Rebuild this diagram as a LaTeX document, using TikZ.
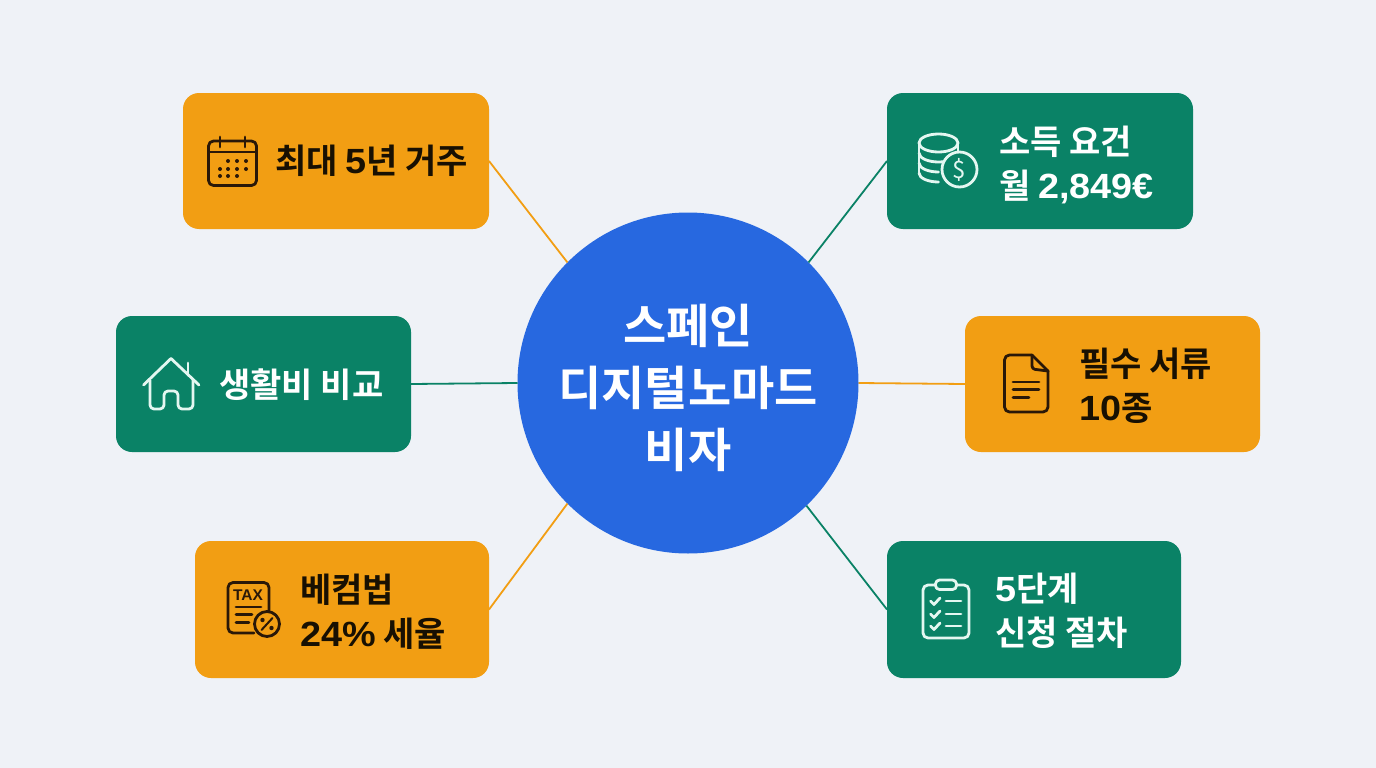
\documentclass[tikz,border=0pt]{standalone}
\usepackage{fontspec}
\setmainfont{Noto Sans CJK KR}[BoldFont={Noto Sans CJK KR Bold}]
\newfontfamily\latinbold{Liberation Sans Bold}
\newfontfamily\latinwide{Liberation Sans Bold}[FakeStretch=1.08]
\newcommand{\lat}[1]{{\fontsize{35}{44}\selectfont\latinwide #1}}
\definecolor{bgc}{HTML}{EFF2F7}
\definecolor{orangec}{HTML}{F29E13}
\definecolor{greenc}{HTML}{0A8266}
\definecolor{bluec}{HTML}{2768E0}
\definecolor{darkc}{HTML}{2A1808}
\definecolor{lightc}{HTML}{E4F7F1}
\tikzset{
  orangebox/.style={fill=orangec,rounded corners=16pt,inner sep=0pt,outer sep=0pt},
  greenbox/.style={fill=greenc,rounded corners=16pt,inner sep=0pt,outer sep=0pt},
  hub/.style={circle,fill=bluec,minimum size=341pt,inner sep=0pt,outer sep=0pt},
  hubtext/.style={inner sep=0pt,align=center,text=white,font=\fontsize{47}{62}\selectfont\bfseries},
  labeldark/.style={anchor=west,inner sep=0pt,align=left,text=black!90!orangec,font=\fontsize{34}{44}\selectfont\bfseries},
  labellight/.style={anchor=west,inner sep=0pt,align=left,text=white,font=\fontsize{34}{44}\selectfont\bfseries},
  linko/.style={draw=orangec,line width=1.8pt},
  linkg/.style={draw=greenc,line width=1.8pt},
  icond/.style={draw=darkc,line width=2.8pt,line cap=round,line join=round},
  iconl/.style={draw=lightc,line width=2.8pt,line cap=round,line join=round},
}
\begin{document}
\begin{tikzpicture}[x=1pt,y=-1pt]
\fill[bgc] (0,0) rectangle (1376,768);
\useasboundingbox (0,0) rectangle (1376,768);

% boxes
\node[orangebox,minimum width=306pt,minimum height=136pt] (boxa) at (336,161) {};
\node[greenbox,minimum width=306pt,minimum height=136pt] (boxb) at (1040,161) {};
\node[greenbox,minimum width=295pt,minimum height=136pt] (boxc) at (263.5,384) {};
\node[orangebox,minimum width=295pt,minimum height=136pt] (boxd) at (1112.5,384) {};
\node[orangebox,minimum width=294pt,minimum height=137pt] (boxe) at (342,609.5) {};
\node[greenbox,minimum width=294pt,minimum height=137pt] (boxf) at (1034,609.5) {};

% hub
\node[hub] (hubc) at (688,383) {};
\node[hubtext] (hubt) at (688,388) {스페인\\디지털노마드\\비자};

% connectors
\draw[linko] (boxa.east) -- (hubc.135);
\draw[linkg] (boxb.west) -- (hubc.45.5);
\draw[linkg] (boxc.east) -- (hubc.180);
\draw[linko] (boxd.west) -- (hubc.0);
\draw[linko] (boxe.east) -- (hubc.225);
\draw[linkg] (boxf.west) -- (hubc.-46);

% labels
\node[labeldark] (ta) at (275,161) {최대 \lat{5}년 거주};
\node[labellight] (tb) at (999,165) {소득 요건\\월 \lat{2,849€}};
\node[labellight] (tc) at (219,385) {생활비 비교};
\node[labeldark] (td) at (1079,386) {필수 서류\\\lat{10}종};
\node[labeldark] (te) at (300,612) {베컴법\\\lat{24\%} 세율};
\node[labellight] (tf) at (995,611) {\lat{5}단계\\신청 절차};

% calendar icon
\draw[icond,rounded corners=5pt] (208.5,153) -- (208.5,141) -- (256.5,141) -- (256.5,185.5) -- (208.5,185.5) -- cycle;
\draw[icond] (208.5,152) -- (256.5,152) (220,137) -- (220,147) (245,137) -- (245,147);
\foreach \px/\py in {228/161,237/161,246/161,220/169,228/169,237/169,246/169,220/176,228/176,237/176}
  \fill[darkc] (\px,\py) circle (2pt);

% coins icon
\draw[iconl] (919,143) -- (919,173) (958,143) -- (958,153);
\draw[iconl] (938.5,143) ellipse (19.5pt and 9pt);
\draw[iconl] (919,153) arc[start angle=180,end angle=310,x radius=19.5pt,y radius=9pt];
\draw[iconl] (919,163) arc[start angle=180,end angle=270,x radius=19.5pt,y radius=9pt];
\draw[iconl] (919,173) arc[start angle=180,end angle=270,x radius=19.5pt,y radius=9pt];
\filldraw[iconl,fill=greenc] (959.5,169.5) circle (17.5pt);
\node[inner sep=0pt,text=lightc,font=\fontsize{24}{24}\selectfont] (dollar) at (959.5,169.5) {\$};

% house icon
\draw[iconl] (143.5,385) -- (171,358.5) -- (199,385);
\draw[iconl] (188,363) -- (188,375);
\draw[iconl,rounded corners=4pt] (150,380) -- (150,409) -- (164,409) -- (164,391) -- (178,391) -- (178,409) -- (193,409) -- (193,380);

% document icon
\draw[icond,rounded corners=5pt] (1032,355) -- (1004.5,355) -- (1004.5,412) -- (1048,412) -- (1048,371);
\draw[icond] (1032,355) -- (1048,371);
\draw[icond,rounded corners=3pt] (1032,355) -- (1032,369) -- (1048,371);
\draw[icond] (1013,382) -- (1039,382) (1013,389.5) -- (1039,389.5) (1013,397.5) -- (1029,397.5);

% tax icon
\draw[icond,rounded corners=5pt] (254,633) -- (228,633) -- (228,582.5) -- (269,582.5) -- (269,612);
\node[inner sep=0pt,text=darkc,font=\latinbold\fontsize{15.5}{16}\selectfont] (taxt) at (248,595) {TAX};
\draw[icond] (236,607) -- (261,607) (236,614.5) -- (252,614.5) (236,622.5) -- (249,622.5);
\filldraw[icond,fill=orangec] (267,624) circle (12.5pt);
\draw[icond,line width=2pt] (261.5,630) -- (272.5,618);
\fill[darkc] (262.5,620) circle (2.2pt) (271.5,628) circle (2.2pt);

% clipboard icon
\draw[iconl,rounded corners=5pt] (935,585) -- (923,585) -- (923,638) -- (969,638) -- (969,585) -- (957,585);
\draw[iconl,rounded corners=4pt] (935.5,580) rectangle (956.5,589.5);
\foreach \cy in {601,614,626}{
  \draw[iconl] (930.5,\cy) -- (934,\cy+3.5) -- (940,\cy-3);
  \draw[iconl] (946,\cy) -- (961,\cy);
}
\end{tikzpicture}
\end{document}
